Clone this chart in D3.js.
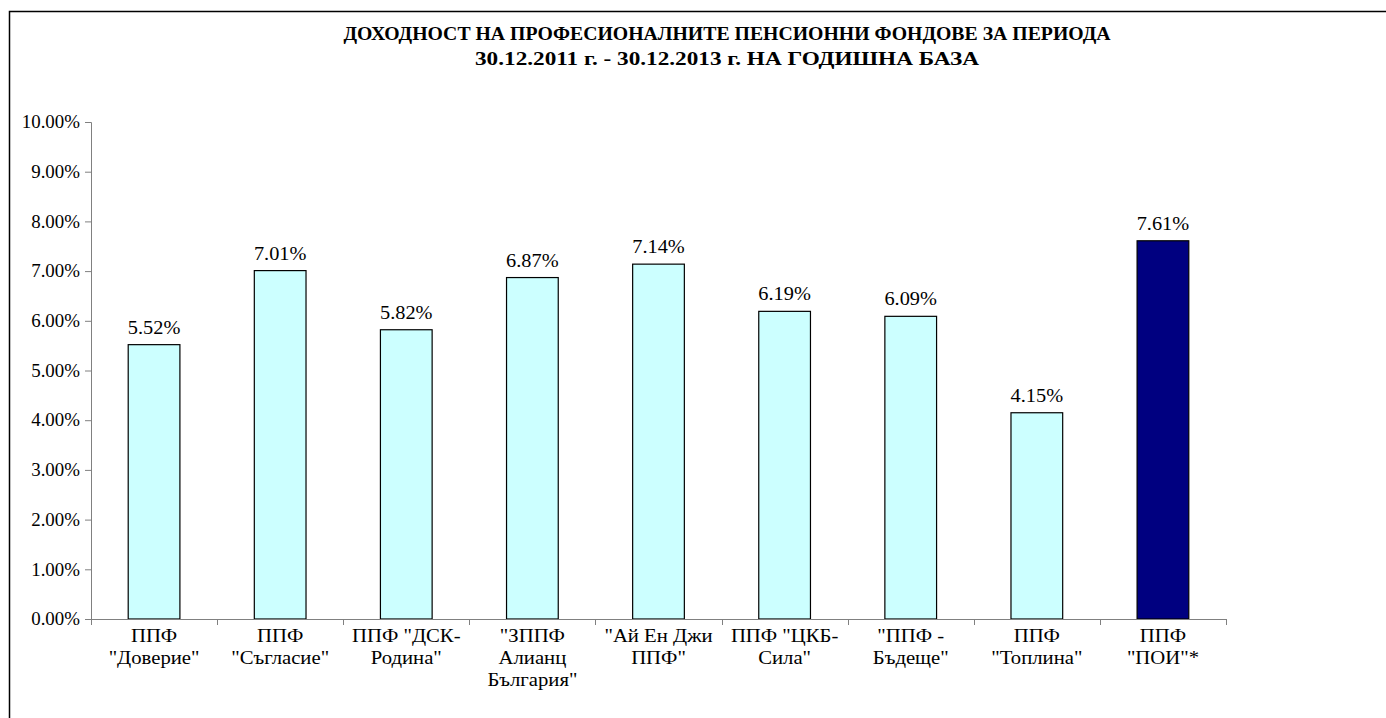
<!DOCTYPE html>
<meta charset="utf-8">
<script src="https://d3js.org/d3.v7.min.js"></script>
<body style="margin:0">
<svg width="1386" height="718"></svg>
<script>

    // fund names, one entry per line of the wrapped label
    var funds = [
        ["ППФ", "\"Доверие\""],
        ["ППФ", "\"Съгласие\""],
        ["ППФ \"ДСК-", "Родина\""],
        ["\"ЗППФ", "Алианц", "България\""],
        ["\"Ай Ен Джи", "ППФ\""],
        ["ППФ \"ЦКБ-", "Сила\""],
        ["\"ППФ -", "Бъдеще\""],
        ["ППФ", "\"Топлина\""],
        ["ППФ", "\"ПОИ\"*"]
    ];
    var returns = [5.52, 7.01, 5.82, 6.87, 7.14, 6.19, 6.09, 4.15, 7.61];
    var yTicks  = [0, 1, 2, 3, 4, 5, 6, 7, 8, 9, 10];
    var titleLines = [
        "ДОХОДНОСТ НА ПРОФЕСИОНАЛНИТЕ ПЕНСИОННИ ФОНДОВЕ ЗА ПЕРИОДА",
        "30.12.2011 г. - 30.12.2013 г. НА ГОДИШНА БАЗА"
    ];

    var serif = '"Liberation Serif"';
    var svg = d3.select('svg');

    // the original text is rendered a bit wider than plain Times, stretch it
    function stretch(sel, k) {
        sel.each(function(){
            var w = this.getComputedTextLength();
            d3.select(this).attr('textLength', w * k).attr('lengthAdjust', 'spacingAndGlyphs');
        });
    }

    // outer chart frame (runs off right and bottom of the picture)
    svg.append('rect')
        .attr('x', 9.5).attr('y', 11.5)
        .attr('width', 1400).attr('height', 720)
        .attr('fill', 'none').attr('stroke', '#000').attr('stroke-width', 1.5);

    var plot = {left: 91, right: 1226, top: 122, bottom: 619};

    var x = d3.scaleBand()
        .domain(d3.range(funds.length))
        .range([plot.left, plot.right])
        .paddingInner(0.59).paddingOuter(0.295);

    var y = d3.scaleLinear().domain([0, 10]).range([plot.bottom, plot.top]);

    // title
    var titleWidths = [767, 504];
    svg.selectAll('text.title').data(titleLines).enter()
        .append('text').attr('class', 'title')
        .attr('x', 727).attr('y', function(d, i){ return 40 + i*25; })
        .attr('text-anchor', 'middle')
        .style('font-family', serif)
        .style('font-weight', 'bold').style('font-size', '18px')
        .attr('textLength', function(d, i){ return titleWidths[i]; })
        .attr('lengthAdjust', 'spacingAndGlyphs')
        .text(function(d){ return d; });

    // y axis
    var yAxis = svg.append('g')
        .attr('transform', 'translate(' + plot.left + ',0)')
        .call(d3.axisLeft(y).tickValues(yTicks).tickSize(6).tickPadding(5)
              .tickFormat(function(d){ return d.toFixed(2) + '%'; }));
    yAxis.select('.domain').attr('stroke', '#808080');
    yAxis.selectAll('.tick line').attr('stroke', '#808080');
    var tickText = yAxis.selectAll('.tick text')
        .style('font-family', serif).style('font-size', '18px').attr('fill', '#000');
    stretch(tickText, 1.05);

    // bars
    svg.selectAll('rect.bar').data(returns).enter()
        .append('rect').attr('class', 'bar')
        .attr('x', function(d, i){ return x(i); })
        .attr('y', function(d){ return y(d); })
        .attr('width', x.bandwidth())
        .attr('height', function(d){ return y(0) - y(d); })
        .attr('fill', function(d, i){ return i === funds.length - 1 ? '#000080' : '#CCFFFF'; })
        .attr('stroke', '#000').attr('stroke-width', 1.2);

    // value labels
    var vals = svg.selectAll('text.val').data(returns).enter()
        .append('text').attr('class', 'val')
        .attr('x', function(d, i){ return x(i) + x.bandwidth()/2; })
        .attr('y', function(d){ return y(d) - 11; })
        .attr('text-anchor', 'middle')
        .style('font-family', serif).style('font-size', '18px')
        .text(function(d){ return d.toFixed(2) + '%'; });
    stretch(vals, 1.13);

    // x axis line with ticks at category boundaries
    var step = x.step();
    var xAxis = svg.append('g');
    xAxis.append('line')
        .attr('x1', plot.left).attr('x2', plot.right)
        .attr('y1', y(0) + 0.5).attr('y2', y(0) + 0.5)
        .attr('stroke', '#808080');
    xAxis.selectAll('line.tick').data(d3.range(funds.length + 1)).enter()
        .append('line').attr('class', 'tick')
        .attr('x1', function(d){ return Math.round(plot.left + d*step) + 0.5; })
        .attr('x2', function(d){ return Math.round(plot.left + d*step) + 0.5; })
        .attr('y1', y(0)).attr('y2', y(0) + 6)
        .attr('stroke', '#808080');

    // category labels
    var cats = svg.selectAll('text.cat').data(funds).enter()
        .append('text').attr('class', 'cat')
        .attr('text-anchor', 'middle')
        .style('font-family', serif).style('font-size', '18px')
        .attr('transform', function(d, i){ return 'translate(' + (x(i) + x.bandwidth()/2) + ',' + 642 + ')'; });
    var lines = cats.selectAll('tspan').data(function(d){ return d; }).enter()
        .append('tspan')
        .attr('x', 0).attr('y', function(d, i){ return i*22; })
        .text(function(d){ return d; });
    stretch(lines, 1.15);

</script>
</body>
